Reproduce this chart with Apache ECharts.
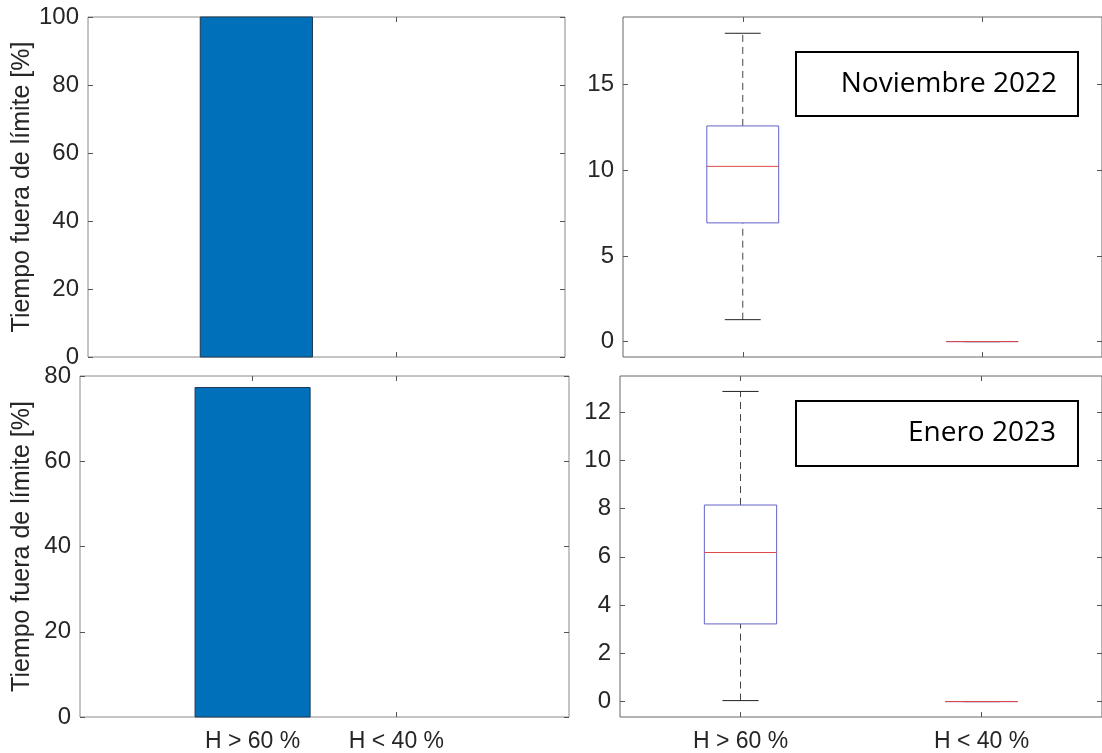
<!DOCTYPE html>
<html><head><meta charset="utf-8">
<script src="https://cdn.jsdelivr.net/npm/echarts@6/dist/echarts.min.js"></script>
<style>html,body{margin:0;padding:0;background:#fff}#c{width:1102px;height:753px}</style>
</head><body><div id="c"></div>
<script>
const categories = ['H > 60 %', 'H < 40 %'];
const categoryPositions = [1, 2];
const novBarValues = [100, 0];
const eneBarValues = [77.3, 0];
// box statistics: [min, q1, median, q3, max]
const novBoxStats = [[1.28, 6.93, 10.23, 12.59, 18.0], [0, 0, 0, 0, 0]];
const eneBoxStats = [[0.04, 3.22, 6.18, 8.15, 12.86], [0, 0, 0, 0, 0]];
const leftTopTicks = [0, 20, 40, 60, 80, 100];
const leftBottomTicks = [0, 20, 40, 60, 80];
const rightTopTicks = [0, 5, 10, 15];
const rightBottomTicks = [0, 2, 4, 6, 8, 10, 12];
const panelLabels = ['Noviembre 2022', 'Enero 2023'];
const yAxisTitle = 'Tiempo fuera de límite [%]';

const TXT = '#262626';
const FONT = '"Liberation Sans", Arial, sans-serif';

const grids = [
  {left: 88, top: 17, width: 477, height: 340},
  {left: 80, top: 376, width: 489, height: 341},
  {left: 623, top: 17, width: 487, height: 340},
  {left: 620, top: 376, width: 486, height: 341}
].map((g, i) => Object.assign({show: true, borderColor: i < 2 ? '#8a8a8a' : '#666', borderWidth: 1, backgroundColor: 'transparent', containLabel: false}, g));

function xAxis(gridIndex, min, max, position, showLabels) {
  return {
    type: 'value', gridIndex, min, max, position,
    axisLine: {show: false, onZero: false},
    splitLine: {show: false},
    axisTick: {show: true, inside: true, length: 5, customValues: categoryPositions, lineStyle: {color: '#555'}},
    axisLabel: {show: showLabels, customValues: categoryPositions, margin: 13,
      formatter: v => categories[categoryPositions.indexOf(v)] || '',
      color: TXT, fontSize: 23, fontFamily: FONT}
  };
}
function yAxis(gridIndex, min, max, ticks, position, showLabels, name, nameGap) {
  return {
    type: 'value', gridIndex, min, max, position,
    name: name || '', nameLocation: 'middle', nameGap: nameGap || 0,
    nameTextStyle: {color: TXT, fontSize: 25, fontFamily: FONT},
    axisLine: {show: false, onZero: false},
    splitLine: {show: false},
    axisTick: {show: true, inside: true, length: 5, customValues: ticks, lineStyle: {color: '#555'}},
    axisLabel: {show: showLabels, customValues: ticks, margin: 9, color: TXT, fontSize: 24, fontFamily: FONT}
  };
}

function renderBar(params, api) {
  const x = api.value(0), y = api.value(1);
  if (!y) return null;
  const p0 = api.coord([x - 0.4, 0]);
  const p1 = api.coord([x + 0.4, y]);
  return {type: 'rect', shape: {x: p0[0], y: p1[1], width: p1[0] - p0[0], height: p0[1] - p1[1]},
    style: {fill: '#0070bb', stroke: '#1e3a55', lineWidth: 1}};
}

function renderBox(params, api) {
  const x = api.value(0);
  const mn = api.value(1), q1 = api.value(2), md = api.value(3), q3 = api.value(4), mx = api.value(5);
  const c = (a, b) => api.coord([a, b]);
  const bw = 0.15, cw = 0.075;
  const line = (p, q, style) => ({type: 'line', shape: {x1: p[0], y1: p[1], x2: q[0], y2: q[1]}, style});
  const dash = {stroke: '#444', lineWidth: 1, lineDash: [7, 5]};
  const solid = {stroke: '#222', lineWidth: 1};
  const tl = c(x - bw, q3), br = c(x + bw, q1);
  return {type: 'group', children: [
    line(c(x, q3), c(x, mx), dash),
    line(c(x, mn), c(x, q1), dash),
    line(c(x - cw, mx), c(x + cw, mx), solid),
    line(c(x - cw, mn), c(x + cw, mn), solid),
    {type: 'rect', shape: {x: tl[0], y: tl[1], width: br[0] - tl[0], height: br[1] - tl[1]},
      style: {fill: 'none', stroke: '#6262c8', lineWidth: 1}},
    line(c(x - bw, md), c(x + bw, md), {stroke: '#e04848', lineWidth: 1})
  ]};
}

const barData = vals => categoryPositions.map((p, i) => [p, vals[i]]);
const boxData = stats => categoryPositions.map((p, i) => [p].concat(stats[i]));

const option = {
  animation: false,
  backgroundColor: '#fff',
  grid: grids,
  xAxis: [
    xAxis(0, -0.2, 3.2, 'bottom', false), xAxis(0, -0.2, 3.2, 'top', false),
    xAxis(1, -0.2, 3.2, 'bottom', true), xAxis(1, -0.2, 3.2, 'top', false),
    xAxis(2, 0.5, 2.5, 'bottom', false), xAxis(2, 0.5, 2.5, 'top', false),
    xAxis(3, 0.5, 2.5, 'bottom', true), xAxis(3, 0.5, 2.5, 'top', false)
  ],
  yAxis: [
    yAxis(0, 0, 100, leftTopTicks, 'left', true, yAxisTitle, 53), yAxis(0, 0, 100, leftTopTicks, 'right', false),
    yAxis(1, 0, 80, leftBottomTicks, 'left', true, yAxisTitle, 45), yAxis(1, 0, 80, leftBottomTicks, 'right', false),
    yAxis(2, -0.9, 18.95, rightTopTicks, 'left', true), yAxis(2, -0.9, 18.95, rightTopTicks, 'right', false),
    yAxis(3, -0.64, 13.5, rightBottomTicks, 'left', true), yAxis(3, -0.64, 13.5, rightBottomTicks, 'right', false)
  ],
  series: [
    {type: 'custom', xAxisIndex: 0, yAxisIndex: 0, renderItem: renderBar, data: barData(novBarValues)},
    {type: 'custom', xAxisIndex: 2, yAxisIndex: 2, renderItem: renderBar, data: barData(eneBarValues)},
    {type: 'custom', xAxisIndex: 4, yAxisIndex: 4, renderItem: renderBox, data: boxData(novBoxStats)},
    {type: 'custom', xAxisIndex: 6, yAxisIndex: 6, renderItem: renderBox, data: boxData(eneBoxStats)}
  ],
  graphic: [
    {type: 'rect', z: 100, shape: {x: 796, y: 52, width: 282, height: 64}, style: {fill: '#fff', stroke: '#000', lineWidth: 2}},
    {type: 'text', z: 101, x: 1057, y: 84, style: {text: panelLabels[0], fontSize: 28, fontFamily: '"Open Sans", sans-serif', fill: '#000', align: 'right', verticalAlign: 'middle'}},
    {type: 'rect', z: 100, shape: {x: 796, y: 401, width: 282, height: 65}, style: {fill: '#fff', stroke: '#000', lineWidth: 2}},
    {type: 'text', z: 101, x: 1056, y: 433, style: {text: panelLabels[1], fontSize: 28, fontFamily: '"Open Sans", sans-serif', fill: '#000', align: 'right', verticalAlign: 'middle'}}
  ]
};
echarts.init(document.getElementById('c')).setOption(option);
</script>
</body></html>
